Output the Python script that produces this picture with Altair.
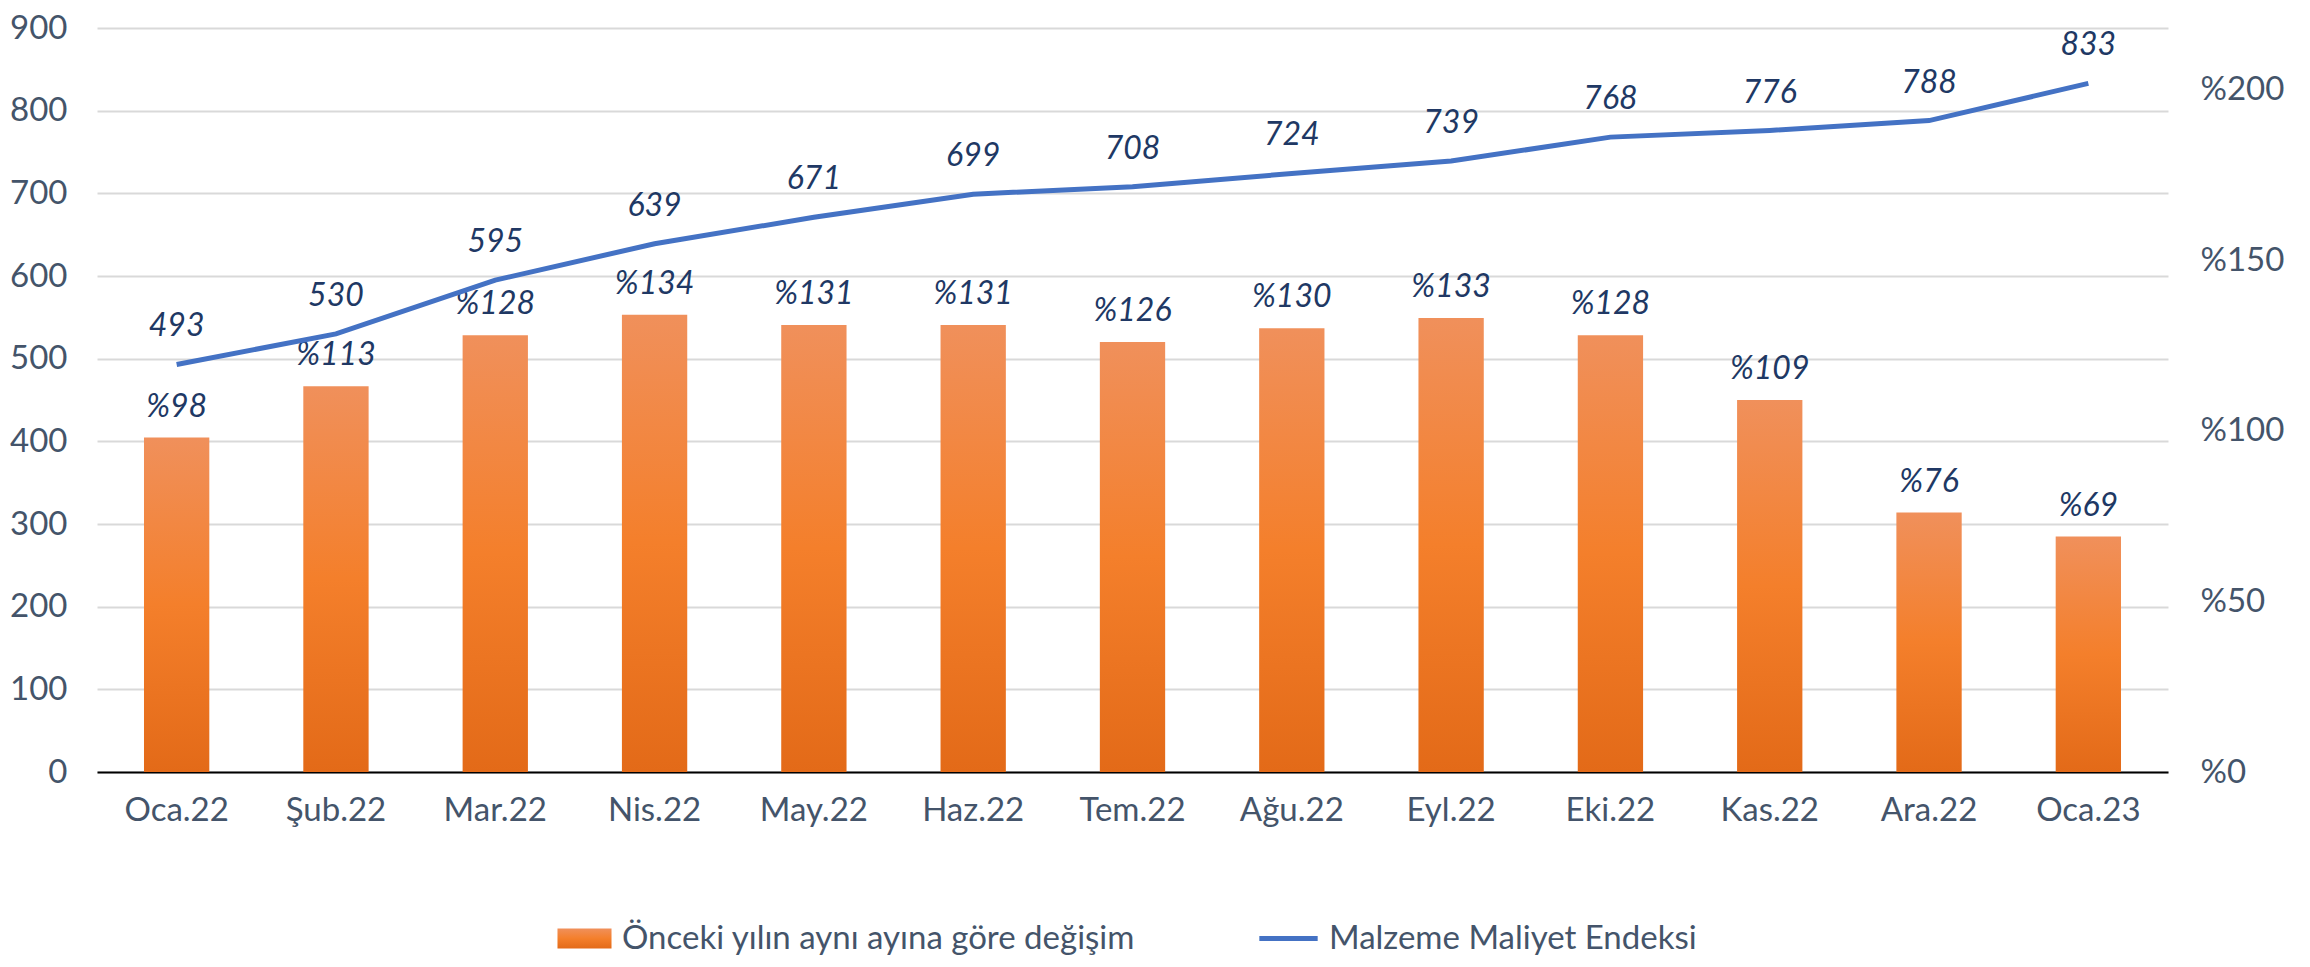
import altair as alt
import pandas as pd

months = ["Oca.22", "Şub.22", "Mar.22", "Nis.22", "May.22", "Haz.22", "Tem.22",
          "Ağu.22", "Eyl.22", "Eki.22", "Kas.22", "Ara.22", "Oca.23"]
index_values = [493, 530, 595, 639, 671, 699, 708, 724, 739, 768, 776, 788, 833]
yoy_change = [98, 113, 128, 134, 131, 131, 126, 130, 133, 128, 109, 76, 69]
left_ticks = [0, 100, 200, 300, 400, 500, 600, 700, 800, 900]
right_ticks = [0, 50, 100, 150, 200]

bar_name = "Önceki yılın aynı ayına göre değişim"
line_name = "Malzeme Maliyet Endeksi"

FONT = "Lato"
TXT = "#44546A"
LBL = "#203864"

df = pd.DataFrame({
    "ay": months,
    "endeks": index_values,
    "degisim": yoy_change,
    "bar_series": [bar_name] * len(months),
    "line_series": [line_name] * len(months),
})

grad = alt.Gradient(
    gradient="linear",
    stops=[
        alt.GradientStop(color="#F0905B", offset=0),
        alt.GradientStop(color="#F47F2B", offset=0.5),
        alt.GradientStop(color="#E36A18", offset=1),
    ],
    x1=0, x2=0, y1=0, y2=1,
)

x = alt.X(
    "ay:N", sort=months, title=None,
    scale=alt.Scale(paddingInner=0.59, paddingOuter=0.295),
    axis=alt.Axis(labelAngle=0, labelFont=FONT, labelFontSize=33, labelColor=TXT,
                  labelPadding=22, ticks=False, domainColor="black", domainWidth=2,
                  grid=False),
)

y_right = alt.Y(
    "degisim:Q", title=None,
    scale=alt.Scale(domain=[0, 218], nice=False, zero=True),
    axis=alt.Axis(orient="right", values=right_ticks, labelExpr="'%' + datum.value",
                  grid=False, domain=False, ticks=False, labelFont=FONT,
                  labelFontSize=33, labelColor=TXT, labelPadding=32),
)

y_left = alt.Y(
    "endeks:Q", title=None,
    scale=alt.Scale(domain=[0, 900], nice=False, zero=True),
    axis=alt.Axis(orient="left", values=left_ticks, grid=True, gridColor="#D9D9D9",
                  gridWidth=2, domain=False, ticks=False, labelFont=FONT,
                  labelFontSize=33, labelColor=TXT, labelPadding=30),
)

base = alt.Chart(df)

bars = base.mark_bar(color=grad).encode(
    x=x,
    y=y_right,
    opacity=alt.Opacity(
        "bar_series:N",
        scale=alt.Scale(range=[1]),
        legend=alt.Legend(
            title=None, orient="none", legendX=471, legendY=894,
            symbolType="M-2.5,-0.93H2.5V0.93H-2.5Z", symbolSize=467,
            symbolFillColor="#F07F2A", symbolStrokeWidth=0,
            labelFont=FONT, labelFontSize=33, labelColor=TXT, labelOffset=21,
            padding=0, labelLimit=1000,
        ),
    ),
)

bar_text = base.transform_calculate(lbl="'%' + datum.degisim").mark_text(
    dy=-31, font=FONT, fontSize=32, fontStyle="italic", color=LBL, baseline="middle"
).encode(x=x, y=y_right, text="lbl:N")

line = base.mark_line(strokeWidth=5).encode(
    x=x,
    y=y_left,
    stroke=alt.Stroke(
        "line_series:N",
        scale=alt.Scale(range=["#4472C4"]),
        legend=alt.Legend(
            title=None, orient="none", legendX=1175, legendY=894,
            symbolType="M-2.7,0H2.7", symbolSize=467, symbolStrokeWidth=5,
            symbolFillColor="transparent",
            labelFont=FONT, labelFontSize=33, labelColor=TXT, labelOffset=24,
            padding=0, labelLimit=1000,
        ),
    ),
)

line_text = base.mark_text(
    dy=-38, font=FONT, fontSize=32, fontStyle="italic", color=LBL, baseline="middle"
).encode(x=x, y=y_left, text="endeks:Q")

chart = alt.layer(
    alt.layer(bars, bar_text),
    alt.layer(line, line_text),
).resolve_scale(y="independent").properties(
    width=2071, height=744,
    autosize=alt.AutoSizeParams(type="none"),
    padding={"left": 89, "top": 20, "right": 130, "bottom": 187},
).configure_view(stroke=None)

chart.save("out.html", embed_options={"renderer": "svg", "actions": False})
